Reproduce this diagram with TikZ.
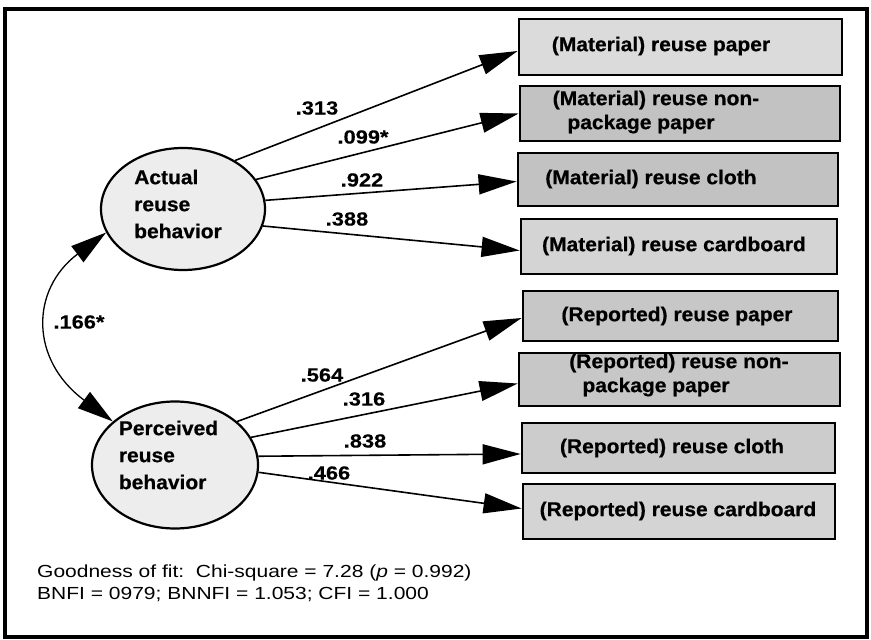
\documentclass[tikz,border=0pt]{standalone}
\usepackage{fontspec}
\setmainfont{Liberation Sans}
\newfontfamily\wideFont[FakeStretch=1.2]{Liberation Sans}
\newfontfamily\heavyFont[FakeStretch=1.05,FakeBold=0.6]{Liberation Sans}
\newfontfamily\coefFont[FakeStretch=1.15,FakeBold=0.3]{Liberation Sans}
\usetikzlibrary{arrows.meta,calc,shapes.geometric}
\begin{document}
\begin{tikzpicture}[x=1pt,y=-1pt,
  obs/.style={draw, line width=2.8pt, inner sep=0pt},
  lat/.style={ellipse, draw, line width=2.2pt, fill=black!7, inner sep=0pt},
  lattext/.style={font={\heavyFont\bfseries\fontsize{20pt}{27pt}\selectfont}, align=left, inner sep=0pt},
  boxtext/.style={font={\heavyFont\bfseries\fontsize{20pt}{24pt}\selectfont}, align=center, inner sep=0pt},
  coef/.style={font={\coefFont\bfseries\fontsize{19pt}{20pt}\selectfont}, inner sep=0pt},
  fittext/.style={font={\wideFont\fontsize{17.5pt}{21pt}\selectfont}, inner sep=0pt, anchor=base west},
  arr/.style={-{Triangle[length=38pt,width=20pt]}, line width=1.6pt},
  corr/.style={{Triangle[length=36pt,width=20pt]}-{Triangle[length=36pt,width=20pt]}, line width=1.3pt}
]
\useasboundingbox (0,0) rectangle (871,640);
\draw[line width=3.5pt] (5,9) rectangle (867,637);

% latent variables
\node[lat, minimum width=164pt, minimum height=122pt] (act) at (183,209) {};
\node[lattext] (actT) at (178,204) {Actual\\reuse\\behavior};
\node[lat, minimum width=166pt, minimum height=127pt] (per) at (175,465) {};
\node[lattext] (perT) at (168.5,455) {Perceived\\reuse\\behavior};

% observed variables
\node[obs, fill=black!14, minimum width=323pt, minimum height=56pt] (b1) at (680.5,47) {};
\node[obs, fill=black!24, minimum width=320pt, minimum height=55pt] (b2) at (680,113.5) {};
\node[obs, fill=black!24, minimum width=320pt, minimum height=53pt] (b3) at (678,179.5) {};
\node[obs, fill=black!17, minimum width=316pt, minimum height=55pt] (b4) at (679,246.5) {};
\node[obs, fill=black!22, minimum width=315pt, minimum height=50pt] (b5) at (680.5,316) {};
\node[obs, fill=black!22, minimum width=321pt, minimum height=53pt] (b6) at (679.5,379.5) {};
\node[obs, fill=black!20, minimum width=313pt, minimum height=50pt] (b7) at (678.5,448) {};
\node[obs, fill=black!17, minimum width=312pt, minimum height=55pt] (b8) at (679,511.5) {};

\node[boxtext] (t1) at (661,46) {(Material) reuse paper};
\node[boxtext] (t2) at (656,112) {(Material) reuse non-\\package paper\hspace*{30pt}};
\node[boxtext] (t3) at (651,179) {(Material) reuse cloth};
\node[boxtext] (t4) at (674,246) {(Material) reuse cardboard};
\node[boxtext] (t5) at (677,316) {(Reported) reuse paper};
\node[boxtext] (t6) at (679,375) {(Reported) reuse non-\\package paper\hspace*{46pt}};
\node[boxtext] (t7) at (672,448) {(Reported) reuse cloth};
\node[boxtext] (t8) at (678,511) {(Reported) reuse cardboard};

% paths
\draw[arr] (act.43) -- ([yshift=-4pt]b1.west);
\draw[arr] (act.22) -- (b2.west);
\draw[arr] (act.6) -- ([yshift=-2pt]b3.west);
\draw[arr] (act.-12) -- ([yshift=-4pt]b4.west);
\draw[arr] (per.35) -- ([yshift=-2pt]b5.west);
\draw[arr] (per.20) -- ([yshift=-4pt]b6.west);
\draw[arr] (per.6) -- ([yshift=-6pt]b7.west);
\draw[arr] (per.-5) -- ([yshift=3pt]b8.west);
\draw[corr] (act.197) .. controls (30,290) and (30,360) .. (per.145);

% coefficients
\node[coef] (l1) at (317,108) {.313};
\node[coef] (l2) at (363,137) {.099*};
\node[coef] (l3) at (362,180) {.922};
\node[coef] (l4) at (347,219) {.388};
\node[coef] (lc) at (79,322) {.166*};
\node[coef] (l5) at (322,375) {.564};
\node[coef] (l6) at (364,399) {.316};
\node[coef] (l7) at (365,441) {.838};
\node[coef] (l8) at (329,473) {.466};

% fit statistics
\node[fittext] (fit1) at (37,577.5) {Goodness of fit:\ \ Chi-square = 7.28 (\textit{p} = 0.992)};
\node[fittext] (fit2) at (37,599) {BNFI = 0979; BNNFI = 1.053; CFI = 1.000};
\end{tikzpicture}
\end{document}
